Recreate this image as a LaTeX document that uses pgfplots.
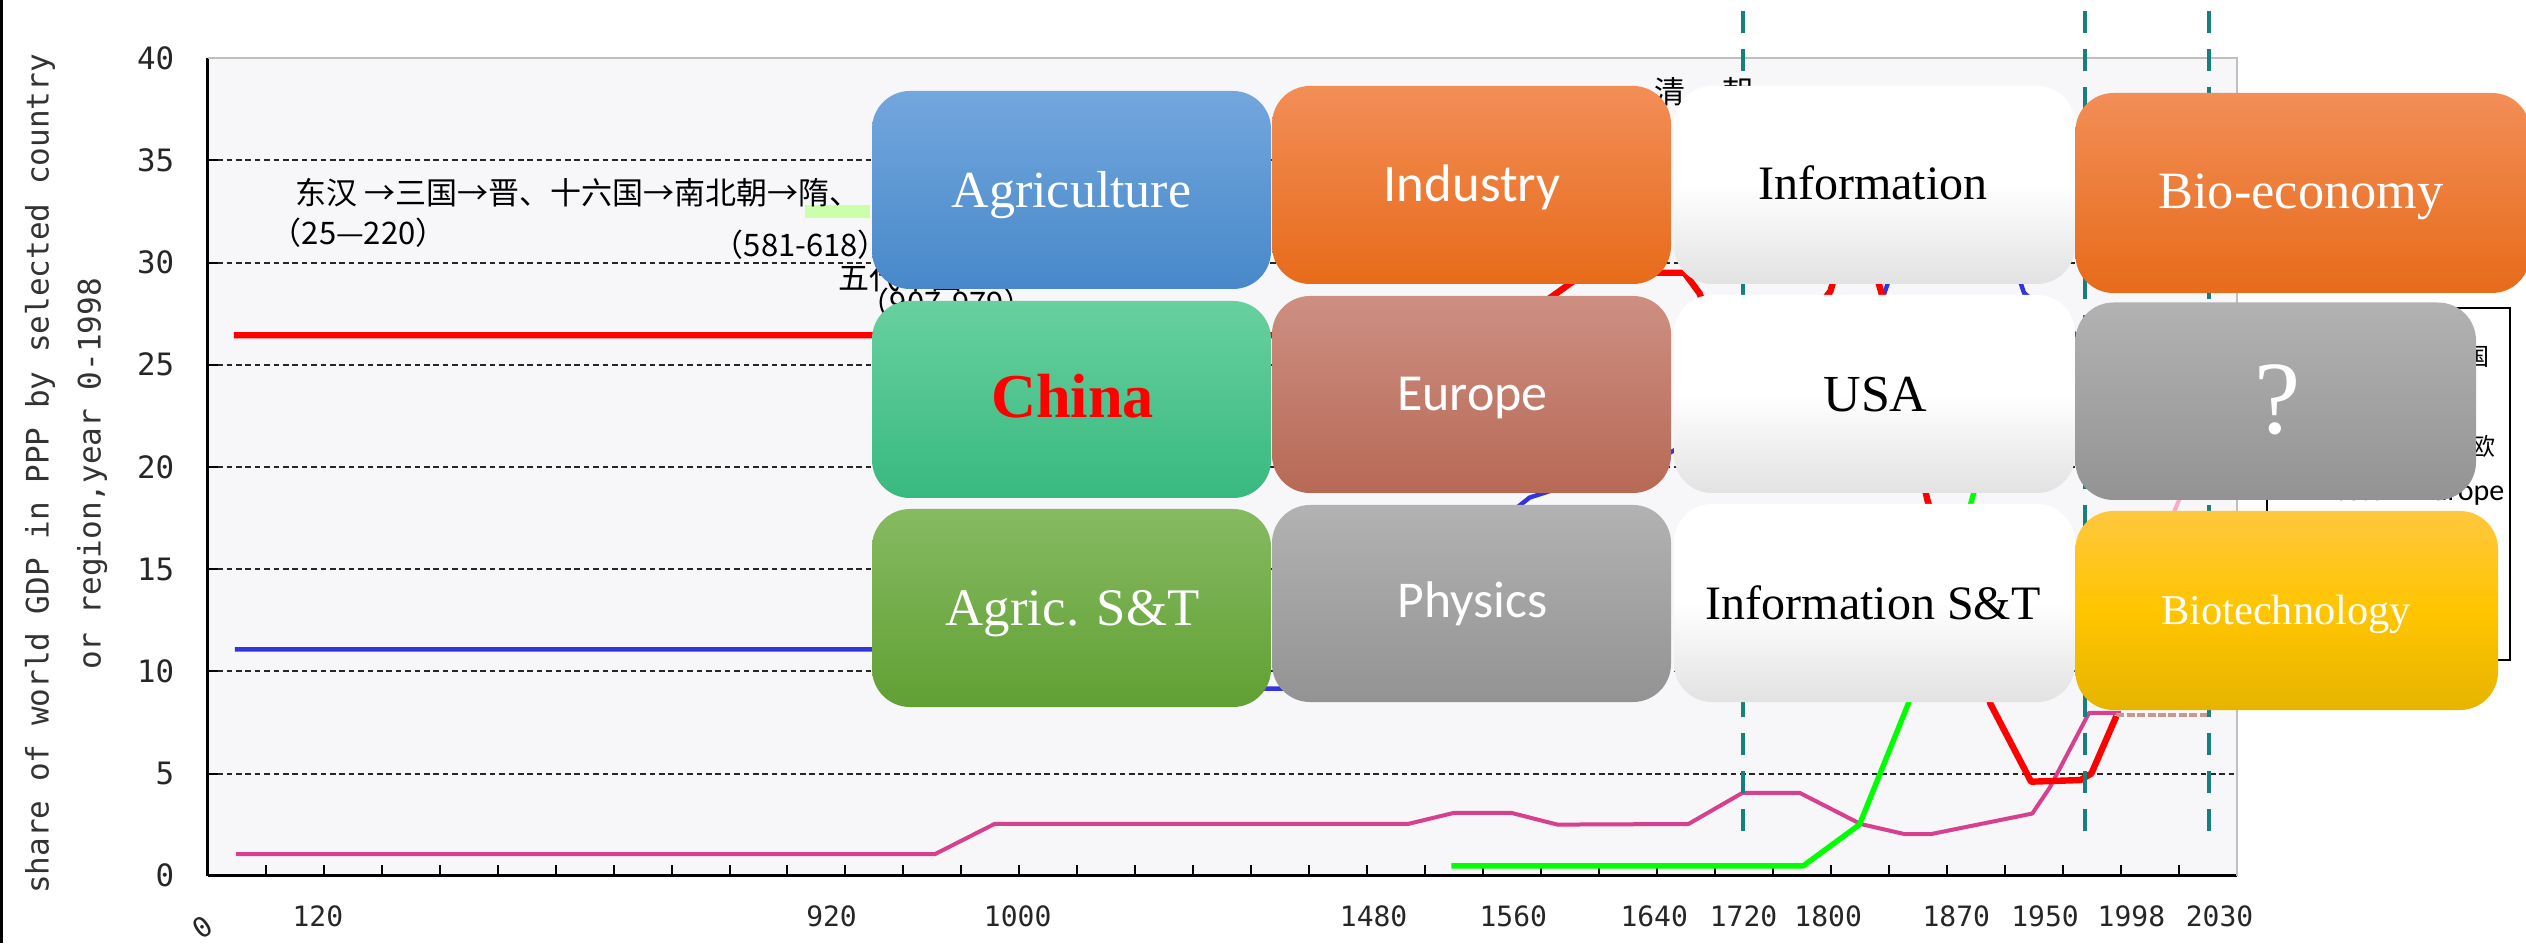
\documentclass[border=0pt]{standalone}
\usepackage{fontspec}
\setmainfont{Liberation Serif}
\newfontfamily\calibri{Carlito}
\newfontfamily\mono{DejaVu Sans Mono}
\newfontfamily\cjk{Noto Sans CJK SC}
\usepackage{pgfplots}
\pgfplotsset{compat=1.18}

\definecolor{plotbg}{HTML}{F7F6F9}
\definecolor{cnred}{HTML}{FF0000}
\definecolor{weblue}{HTML}{3434DC}
\definecolor{usgreen}{HTML}{00FF00}
\definecolor{jpmag}{HTML}{D6408E}
\definecolor{projbrown}{HTML}{C8988E}
\definecolor{lpink}{HTML}{F8AACB}
\definecolor{tealdash}{HTML}{16807F}
\definecolor{agriT}{HTML}{72A7DD}\definecolor{agriB}{HTML}{4888CA}
\definecolor{chinaT}{HTML}{68D09F}\definecolor{chinaB}{HTML}{38B980}
\definecolor{agstT}{HTML}{86BA62}\definecolor{agstB}{HTML}{61A033}
\definecolor{indT}{HTML}{F28E57}\definecolor{indB}{HTML}{E76B1A}
\definecolor{euT}{HTML}{CD8F82}\definecolor{euB}{HTML}{B76955}
\definecolor{phT}{HTML}{B2B2B2}\definecolor{phB}{HTML}{939393}
\definecolor{wB}{HTML}{E2E2E2}
\definecolor{biotT}{HTML}{FFC73E}\definecolor{biotM}{HTML}{FFC500}\definecolor{biotB}{HTML}{E6B400}
\definecolor{hlgreen}{HTML}{CCFFAA}

\newcommand\rbox[5]{\shade[rounded corners=9.5pt,#5] (#1,#2) rectangle (#3,#4);}

\begin{document}
\begin{tikzpicture}
\begin{scope}[x=0.25pt,y=0.25pt]
\fill[black] (0,0) rectangle (3,943);
\end{scope}
\begin{axis}[
  at={(51.925pt,16.825pt)}, anchor=south west,
  scale only axis, width=507.3pt, height=204.4pt,
  xmin=0, xmax=35, ymin=0, ymax=40,
  clip=false,
  axis background/.style={fill=plotbg},
  axis x line*=bottom, axis y line*=left,
  axis line style={-, black, line width=0.65pt},
  tick align=inside,
  major tick length=2.6pt,
  tick style={black, line width=0.5pt},
  xtick={1,...,34}, xticklabels={},
  extra x ticks={1.90,10.76,13.97,20.11,22.52,24.95,26.49,27.95,30.16,31.69,33.18,34.70},
  extra x tick labels={120,920,1000,1480,1560,1640,1720,1800,1870,1950,1998,2030},
  extra x tick style={major tick length=0pt},
  xticklabel style={anchor=base, inner sep=0pt, yshift=-12.8pt, font=\mono\fontsize{7pt}{8pt}\selectfont, text=black!85},
  ytick={5,10,...,35},
  extra y ticks={0,40},
  extra y tick style={grid=none},
  ymajorgrids,
  major grid style={black!85, line width=0.5pt, dash pattern=on 1.4pt off 0.95pt},
  /pgf/number format/assume math mode=true,
  yticklabel style={anchor=east, inner sep=0pt, xshift=-8.2pt, font=\mono\fontsize{7.7pt}{9pt}\selectfont, text=black!85},
]
% Western Europe (blue)
\addplot[weblue, line width=1.1pt, line join=round] coordinates {
(0.47,11.07) (13.32,11.07) (14.35,9.15) (18.66,9.15) (22.80,18.5) (25.22,20.7)
(26.47,22.5) (27.97,23.6) (28.92,28.5) (29.52,33.5) (30.73,33.5) (31.33,28.5)
(32.21,26.5) (32.92,21.0)};
% Japan (magenta)
\addplot[jpmag, line width=1pt, line join=round] coordinates {
(0.49,1.05) (12.54,1.05) (13.57,2.53) (20.70,2.53) (21.49,3.07) (22.49,3.07)
(23.28,2.50) (25.54,2.53) (26.47,4.05) (27.46,4.05) (28.51,2.53) (29.26,2.04)
(29.73,2.04) (31.47,3.04) (31.77,4.30) (32.45,7.97) (33.00,7.97)};
% USA (green)
\addplot[usgreen, line width=1.35pt, line join=round] coordinates {
(21.45,0.48) (27.52,0.48) (28.49,2.5) (29.33,8.4) (30.42,18.3) (31.25,27.0)
(31.70,27.0) (32.21,23.7) (32.92,22.0)};
% projection (brown)
\addplot[projbrown, line width=1.1pt, dash pattern=on 2pt off 0.6pt] coordinates {
(32.92,7.85) (34.49,7.85)};
% light pink
\addplot[lpink, line width=1pt] coordinates {(33.83,17.2) (34.12,19.2)};
% China (red)
\addplot[cnred, line width=1.6pt, line join=round] coordinates {
(0.45,26.44) (22.25,26.44) (23.76,29.5) (25.47,29.5) (25.73,28.5) (26.49,23.0)
(27.99,28.6) (28.42,33.0) (28.87,28.5) (29.66,18.4) (30.75,8.4) (31.45,4.6)
(32.30,4.68) (32.49,5.0) (32.92,7.8)};
% frame top/right
\draw[black!25, line width=0.5pt] (rel axis cs:0,1) -- (rel axis cs:1,1) -- (rel axis cs:1,0);
% teal dashed era lines
\draw[tealdash, line width=1pt, dash pattern=on 5.5pt off 4pt] (axis cs:26.48,42.3) -- (axis cs:26.48,2.1);
\draw[tealdash, line width=1pt, dash pattern=on 5.5pt off 4pt] (axis cs:32.38,42.3) -- (axis cs:32.38,2.1);
\draw[tealdash, line width=1pt, dash pattern=on 5.5pt off 4pt] (axis cs:34.51,42.3) -- (axis cs:34.51,2.1);
\end{axis}

\begin{scope}[x=0.25pt,y=0.25pt]
% y label
\node[rotate=90, align=center, font=\mono\fontsize{7.75pt}{13pt}\selectfont, text=black!80] at (66,469)
  {share of world GDP in PPP by selected country\\or region,year 0-1998};
\node[rotate=35, font=\mono\fontsize{7pt}{8pt}\selectfont, text=black!85] at (203,16) {0};

% Chinese dynasty annotations
\fill[hlgreen] (805,725) rectangle (870,738);
\node[anchor=west, inner sep=0pt, font=\cjk\fontsize{7.75pt}{9pt}\selectfont] at (295,750) {东汉 →三国→晋、十六国→南北朝→隋、};
\node[anchor=west, inner sep=0pt, font=\cjk\fontsize{7.75pt}{9pt}\selectfont] at (270,710) {（25—220）};
\node[anchor=west, inner sep=0pt, font=\cjk\fontsize{7.75pt}{9pt}\selectfont] at (712,698) {（581-618）};
\node[anchor=west, inner sep=0pt, font=\cjk\fontsize{7.75pt}{9pt}\selectfont] at (838,665) {五代十国};
\node[anchor=west, inner sep=0pt, font=\cjk\fontsize{7.75pt}{9pt}\selectfont] at (858,640) {（907-979）};
\node[inner sep=0pt, font=\cjk\fontsize{7.75pt}{9pt}\selectfont] at (1670,851) {清};
\node[inner sep=0pt, font=\cjk\fontsize{7.75pt}{9pt}\selectfont] at (1738,851) {朝};

% legend (partly hidden)
\draw[black, line width=0.5pt, fill=white] (2267,283) rectangle (2510,635);
\node[anchor=east, inner sep=0pt, font=\cjk\fontsize{6pt}{7pt}\selectfont] at (2490,587) {中国};
\node[anchor=east, inner sep=0pt, font=\cjk\fontsize{6pt}{7pt}\selectfont] at (2496,497) {西欧};
\node[anchor=base east, inner sep=0pt, font=\calibri\fontsize{7.5pt}{9pt}\selectfont] at (2505,442) {Western Europe};

% column 1
\rbox{872}{654}{1271}{852}{top color=agriT, bottom color=agriB}
\rbox{872}{445}{1271}{642}{top color=chinaT, bottom color=chinaB}
\rbox{872}{236}{1271}{434}{top color=agstT, bottom color=agstB}
% column 2
\rbox{1272}{659}{1671}{857}{top color=indT, bottom color=indB}
\rbox{1272}{450}{1671}{647}{top color=euT, bottom color=euB}
\rbox{1272}{241}{1671}{438}{top color=phT, bottom color=phB}
% column 3
\rbox{1674}{659}{2075}{857}{top color=white, bottom color=wB, middle color=white}
\rbox{1674}{450}{2075}{648}{top color=white, bottom color=wB, middle color=white}
\rbox{1674}{241}{2075}{439}{top color=white, bottom color=wB, middle color=white}
% column 4
\rbox{2075.5}{650}{2530}{850}{top color=indT, bottom color=indB}
\rbox{2075.5}{443}{2476}{640.5}{top color=phT, bottom color=phB}
\rbox{2075.5}{233}{2498}{432}{top color=biotT, bottom color=biotB, middle color=biotM}

% box texts
\node[anchor=base, text=white, font=\fontsize{13pt}{15pt}\selectfont] at (1071.5,735.5) {Agriculture};
\node[anchor=base, text=cnred, font=\bfseries\fontsize{15.6pt}{18pt}\selectfont] at (1072.7,525) {China};
\node[anchor=base, text=white, font=\fontsize{13.2pt}{15pt}\selectfont] at (1072.7,317.6) {Agric. S\&T};
\node[anchor=base, text=white, font=\calibri\fontsize{13.2pt}{15pt}\selectfont] at (1472,741.6) {Industry};
\node[anchor=base, text=white, font=\calibri\fontsize{13pt}{15pt}\selectfont] at (1472.5,532.3) {Europe};
\node[anchor=base, text=white, font=\calibri\fontsize{12.9pt}{15pt}\selectfont] at (1472.5,325) {Physics};
\node[anchor=base, text=black, font=\fontsize{12pt}{14pt}\selectfont] at (1873,743) {Information};
\node[anchor=base, text=black, font=\fontsize{13pt}{15pt}\selectfont] at (1875.5,531) {USA};
\node[anchor=base, text=black, font=\fontsize{12pt}{14pt}\selectfont] at (1873,324) {Information S\&T};
\node[anchor=base, text=white, font=\fontsize{13.1pt}{15pt}\selectfont] at (2301,734) {Bio-economy};
\node[anchor=base, text=white, font=\fontsize{26pt}{30pt}\selectfont] at (2277.5,509) {?};
\node[anchor=base, text=white, font=\fontsize{10.6pt}{12pt}\selectfont] at (2286,318) {Biotechnology};
\end{scope}
\pgfresetboundingbox
\path[use as bounding box] (0pt,0pt) rectangle (631.5pt,235.75pt);
\end{tikzpicture}
\end{document}
